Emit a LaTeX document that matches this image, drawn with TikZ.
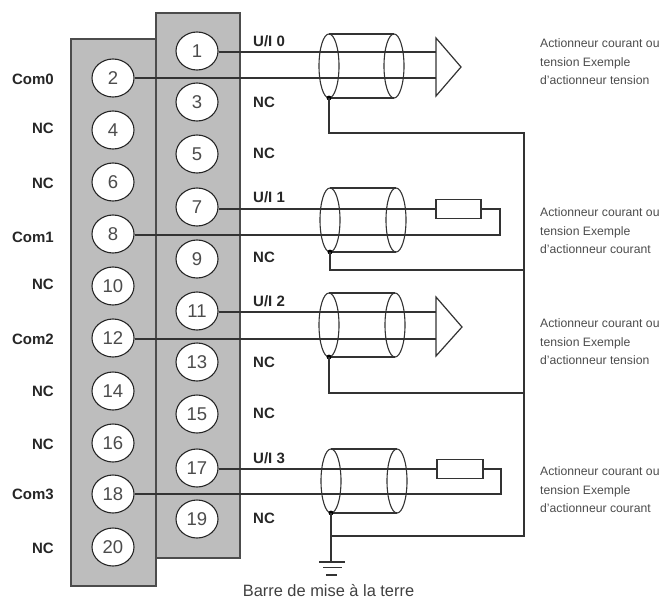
\documentclass[tikz,border=0pt]{standalone}
\usepackage{fontspec}
\setmainfont{Liberation Sans}
\usetikzlibrary{shapes.geometric}
\begin{document}
\begin{tikzpicture}[x=1pt,y=-1pt,
  block/.style={draw=black!70,line width=1.3pt,fill=black!26},
  term/.style={draw=black!85,fill=white,line width=1.1pt,ellipse,minimum width=42pt,minimum height=38pt,inner sep=0pt,font=\fontsize{18.5}{18.5}\selectfont,text=black!70},
  wire/.style={draw=black!80,line width=1.2pt},
  shieldring/.style={draw=black!80,line width=1.1pt},
  res/.style={draw=black!80,line width=1.2pt,minimum width=45pt,minimum height=19pt,inner sep=0pt,fill=white},
  lab/.style={font=\bfseries\fontsize{15}{15}\selectfont,text=black!85,inner sep=0pt},
  note/.style={font=\fontsize{12.2}{18.6}\selectfont,text=black!70,align=left,inner sep=0pt,anchor=west}]
\useasboundingbox (0,0) rectangle (669,600);
\draw[block] (71,586) rectangle (156,39);
\draw[block] (156,558) rectangle (240,13);
\foreach \n/\y in {1/51,3/102,5/154,7/207,9/259,11/311,13/362,15/414,17/468,19/519}
  \node[term] (t\n) at (197,\y) {\n};
\foreach \n/\y in {2/78,4/130,6/182,8/234,10/286,12/338,14/391,16/443,18/494,20/547}
  \node[term] (t\n) at (113,\y) {\n};
% cables
\foreach \k/\xl/\xr/\cy in {0/329/394/66,1/330/396/220,2/329/395/325,3/331/397/481}{
  \coordinate (top\k) at (\xl,\cy-32);
  \coordinate (bot\k) at (\xl,\cy+32);
  \coordinate (rtop\k) at (\xr,\cy-32);
  \coordinate (rbot\k) at (\xr,\cy+32);
  \draw[shieldring] (\xl,\cy) ellipse [x radius=10,y radius=32];
  \draw[shieldring] (\xr,\cy) ellipse [x radius=10,y radius=32];
  \draw[shieldring] (top\k) -- (rtop\k) (bot\k) -- (rbot\k);
  \fill[black] (bot\k) circle (2.4);
}
% wires
\coordinate (tri0) at (436,52); \coordinate (tri0b) at (436,78);
\draw[wire] (t1.east |- tri0) -- (tri0);
\draw[wire] (t2.east) -- (tri0b);
\draw[wire,fill=white] (436,38) -- (461,67) -- (436,96) -- cycle;
\node[res] (r1) at (458.5,209) {};
\coordinate (c1a) at (500,209); \coordinate (c1b) at (500,235);
\draw[wire] (t7.east |- r1.west) -- (r1.west);
\draw[wire] (r1.east) -- (c1a) -- (c1b) -- (t8.east |- c1b);
\coordinate (tri2) at (436,312); \coordinate (tri2b) at (436,339);
\draw[wire] (t11.east |- tri2) -- (tri2);
\draw[wire] (t12.east |- tri2b) -- (tri2b);
\draw[wire,fill=white] (436,297) -- (462,327) -- (436,356) -- cycle;
\node[res,minimum width=46pt] (r3) at (460,469) {};
\coordinate (c3a) at (501,469); \coordinate (c3b) at (501,494);
\draw[wire] (t17.east |- r3.west) -- (r3.west);
\draw[wire] (r3.east) -- (c3a) -- (c3b) -- (t18.east |- c3b);
% shield drains and bus
\coordinate (busT) at (524,133);
\coordinate (busB) at (524,536);
\coordinate (gnd) at (331,562);
\draw[wire] (bot0) |- (busT) -- (busB) -- (gnd |- busB);
\draw[wire] (bot1) |- (524,270);
\draw[wire] (bot2) |- (524,393);
\draw[wire] (bot3) -- (gnd);
\draw[wire] (319,562) -- (345,562);
\draw[wire] (323,567.5) -- (342,567.5);
\draw[wire] (326,575) -- (337,575);
% labels
\foreach \tx/\y in {{U/I 0}/41,NC/102,NC/153,{U/I 1}/197,NC/257,{U/I 2}/301,NC/362,NC/413,{U/I 3}/458,NC/518}
  \node[lab,anchor=west] at (253,\y) {\tx};
\foreach \tx/\y in {Com0/79,NC/128,NC/183,Com1/237,NC/284,Com2/339,NC/391,NC/444,Com3/494,NC/548}
  \node[lab,anchor=east] at (54,\y) {\tx};
\node[note] at (540,62) {Actionneur courant ou\\tension Exemple\\d'actionneur tension};
\node[note] at (540,231) {Actionneur courant ou\\tension Exemple\\d'actionneur courant};
\node[note] at (540,342) {Actionneur courant ou\\tension Exemple\\d'actionneur tension};
\node[note] at (540,490) {Actionneur courant ou\\tension Exemple\\d'actionneur courant};
\node[font=\fontsize{16.4}{18}\selectfont,text=black!75,inner sep=0pt] at (328.5,591) {Barre de mise à la terre};
\end{tikzpicture}
\end{document}
